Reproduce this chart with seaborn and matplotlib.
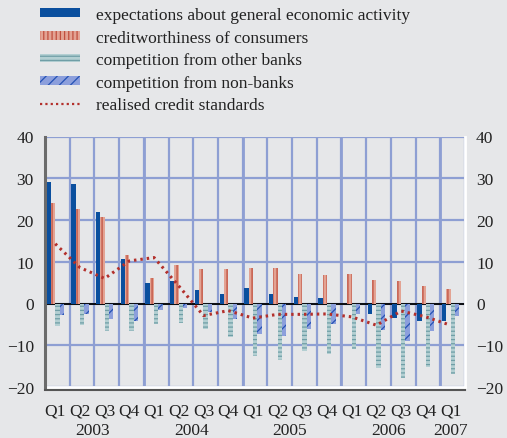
import matplotlib
matplotlib.use("Agg")
import matplotlib.pyplot as plt
import numpy as np
import pandas as pd
import seaborn as sns
from matplotlib.lines import Line2D
from matplotlib.patches import Patch

# quarters Q1 2003 .. Q1 2007
quarter_labels = ["Q1", "Q2", "Q3", "Q4"] * 4 + ["Q1"]
year_labels = ["2003", "2004", "2005", "2006", "2007"]
year_label_pos = [1.5, 5.5, 9.5, 13.5, 16.0]
periods = [f"{2003 + i // 4} {q}" for i, q in enumerate(quarter_labels)]

series_names = [
    "expectations about general economic activity",
    "creditworthiness of consumers",
    "competition from other banks",
    "competition from non-banks",
]
expectations = [29.0, 28.7, 21.8, 10.6, 5.0, 5.4, 3.3, 2.3, 3.8, 2.3, 1.5, 1.4, 0.0, -2.6, -3.4, -4.1, -4.2]
creditworthiness = [24.1, 22.6, 20.6, 11.7, 6.2, 9.2, 8.2, 8.2, 8.6, 8.4, 7.0, 6.9, 7.0, 5.6, 5.3, 4.2, 3.4]
other_banks = [-5.5, -5.2, -6.5, -6.7, -4.8, -4.6, -6.1, -8.0, -12.6, -13.5, -11.4, -12.0, -10.9, -15.4, -17.8, -15.2, -16.8]
non_banks = [-2.8, -2.4, -3.8, -4.1, -1.6, -1.0, -2.0, -3.8, -7.4, -7.8, -6.0, -4.9, -2.6, -6.4, -9.0, -6.6, -3.1]
realised = [14.3, 8.6, 6.0, 10.2, 11.0, 4.2, -2.9, -1.7, -3.5, -2.6, -2.6, -2.5, -3.2, -5.2, -1.8, -3.2, -5.2]
line_label = "realised credit standards"

face_colors = ["#0a4f9e", "#e3a393", "#b3cfd2", "#8c9fdc"]
hatch_colors = ["#0a4f9e", "#c0503f", "#6f9ea6", "#2452b5"]
hatches = [None, "||||", "----", "///"]
line_color = "#b3302c"
grid_color = "#8e9fd3"
bg = "#e6e7e9"

sns.set_style("white")
plt.rcParams["font.family"] = ["Liberation Serif", "DejaVu Serif"]
plt.rcParams["hatch.linewidth"] = 0.9

df = pd.DataFrame({
    "period": periods * 4,
    "series": np.repeat(series_names, len(periods)),
    "value": expectations + creditworthiness + other_banks + non_banks,
})

fig = plt.figure(figsize=(5.07, 4.39), dpi=100, facecolor=bg)
ax = fig.add_axes([45 / 507, 1 - 388 / 439, 420 / 507, 250.5 / 439], facecolor=bg)

sns.barplot(data=df, x="period", y="value", hue="series", order=periods,
            hue_order=series_names, palette=face_colors, saturation=1,
            width=0.7, linewidth=0, legend=False, ax=ax, zorder=3)
for cont, h, hc in zip(ax.containers, hatches, hatch_colors):
    for p in cont:
        p.set_edgecolor(hc)
        p.set_linewidth(0)
        if h:
            p.set_hatch(h)

sns.lineplot(x=np.arange(len(periods)), y=realised, ax=ax, color=line_color,
             lw=2.2, linestyle=(0, (0.8, 1.3)), zorder=4)

ax.axhline(0, color="black", lw=1.3, zorder=2.5)

x0 = -0.415
ax.set_xlim(x0, x0 + len(periods))
ax.set_ylim(-20, 40)
ax.set_xlabel("")
ax.set_ylabel("")

ax.set_yticks(range(-20, 41, 10))
ax.yaxis.grid(True, color=grid_color, lw=1.6, zorder=0)
ax.set_xticks(np.arange(len(periods)))
ax.set_xticklabels(quarter_labels)
ax.set_xticks(x0 + np.arange(len(periods) + 1), minor=True)
ax.xaxis.grid(True, which="minor", color=grid_color, lw=1.6, zorder=0)
ax.xaxis.grid(False, which="major")
ax.set_axisbelow(True)
# slightly heavier lines at the year boundaries
for k in range(4, len(periods), 4):
    ax.axvline(x0 + k, color=grid_color, lw=2.0, zorder=0.6)

ax.tick_params(axis="y", length=0, labelleft=True, labelright=True, pad=8,
               labelsize=12.5, labelcolor="#222222")
ax.tick_params(axis="x", which="major", length=0, pad=9, labelsize=12.5,
               labelcolor="#222222")
ax.tick_params(axis="x", which="minor", length=4, width=1.2, color="#555555",
               direction="out")

for pos, lab in zip(year_label_pos, year_labels):
    ax.text(pos, -0.17, lab, transform=ax.get_xaxis_transform(), ha="center",
            va="center", fontsize=12.5, color="#222222")

ax.spines["top"].set_visible(False)
ax.spines["left"].set_color("#6b6b6b")
ax.spines["left"].set_linewidth(2.2)
ax.spines["right"].set_color("white")
ax.spines["right"].set_linewidth(2)
ax.spines["bottom"].set_color("#555555")
ax.spines["bottom"].set_linewidth(1.5)
ax.spines["bottom"].set_position(("outward", 2))
ax.axhline(-20, color="white", lw=2, zorder=1, clip_on=False)

handles = []
for fc, h, hc in zip(face_colors, hatches, hatch_colors):
    handles.append(Patch(facecolor=fc, edgecolor=hc if h else fc, hatch=h, lw=0))
handles.append(Line2D([], [], color=line_color, lw=1.6, linestyle=(0, (1, 1.4))))
fig.legend(handles, series_names + [line_label], loc="upper left",
           bbox_to_anchor=(40 / 507, 1 - 8 / 439), frameon=False, fontsize=12.5,
           handlelength=2.3, handleheight=0.4, handletextpad=0.9,
           labelspacing=0.38, borderpad=0, borderaxespad=0, labelcolor="#222222")

fig.savefig("out.png", dpi=100, facecolor=bg)
